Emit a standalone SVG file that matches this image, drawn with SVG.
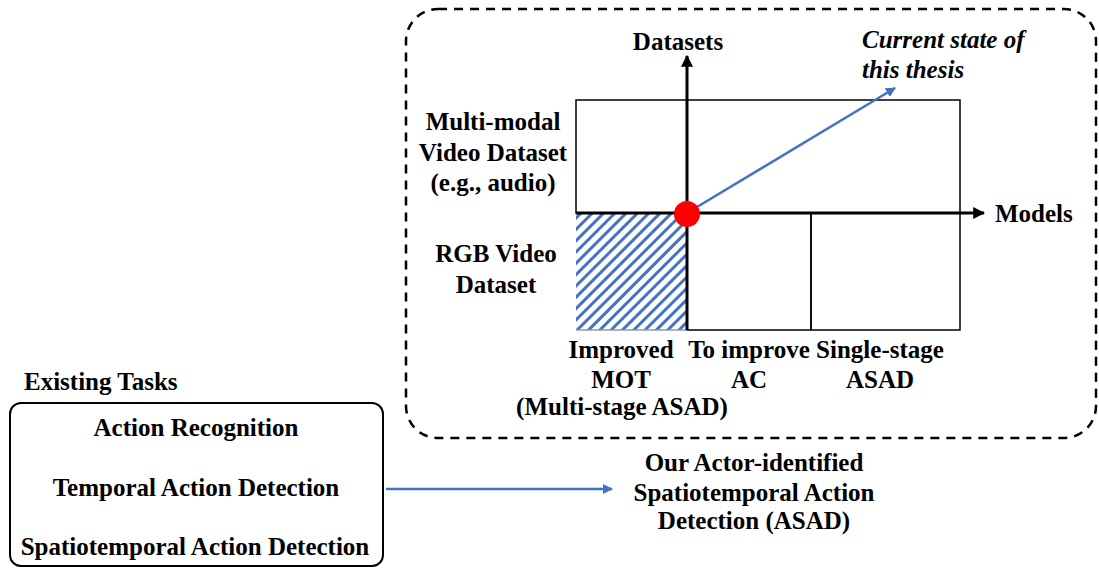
<svg xmlns="http://www.w3.org/2000/svg" width="1099" height="568" viewBox="0 0 1099 568">
  <style>
    .t { font-family: "Liberation Serif", "Times New Roman", serif; font-weight: bold; font-size: 25px; fill: #000; }
    .c { text-anchor: middle; }
    .it { font-style: italic; }
    .thin { fill: none; stroke: #000; stroke-width: 1.5; }
    .axis { fill: none; stroke: #000; stroke-width: 3; }
    .blue { fill: none; stroke: #4472C4; stroke-width: 2.5; }
  </style>
  <defs>
    <marker id="blackHead" viewBox="0 0 10 10" refX="9" refY="5" markerWidth="4" markerHeight="4" orient="auto" markerUnits="strokeWidth">
      <path d="M0,0 L10,5 L0,10 z" fill="#000"/>
    </marker>
    <marker id="blueHead" viewBox="0 0 10 10" refX="9" refY="5" markerWidth="4" markerHeight="4" orient="auto" markerUnits="strokeWidth">
      <path d="M0,0 L10,5 L0,10 z" fill="#4472C4"/>
    </marker>
    <pattern id="hatch" patternUnits="userSpaceOnUse" width="8" height="8" patternTransform="rotate(45)">
      <rect width="8" height="8" fill="#fff"/>
      <rect x="0" y="0" width="3" height="8" fill="#4472C4"/>
    </pattern>
  </defs>

  <!-- dashed frame around the research map -->
  <g id="frame">
    <rect x="406" y="9" width="690" height="429" rx="32" ry="32" fill="none" stroke="#000" stroke-width="2.5" stroke-dasharray="9 7"/>
  </g>

  <!-- map cells -->
  <g id="grid">
    <rect x="576" y="100" width="384" height="113" class="thin"/>
    <rect x="576" y="213" width="111" height="117" fill="url(#hatch)"/>
    <rect x="687" y="213" width="124" height="117" class="thin"/>
    <rect x="811" y="213" width="149" height="117" class="thin"/>
    <line x1="576" y1="330" x2="687" y2="330" stroke="#999" stroke-width="1.5"/>
  </g>

  <!-- axes and arrows -->
  <g id="connectors">
    <line x1="576" y1="213" x2="984" y2="213" class="axis" marker-end="url(#blackHead)"/>
    <line x1="687" y1="330" x2="687" y2="56" class="axis" marker-end="url(#blackHead)"/>
    <line x1="687" y1="213" x2="895" y2="88" class="blue" marker-end="url(#blueHead)"/>
    <line x1="386" y1="489" x2="612" y2="489" class="blue" marker-end="url(#blueHead)"/>
  </g>

  <g id="origin">
    <circle cx="687" cy="214" r="13" fill="#FF0000"/>
  </g>

  <g id="axis-labels">
    <text x="678" y="50" class="t c">Datasets</text>
    <text x="995" y="222" class="t">Models</text>
    <text x="862" y="48" class="t it">Current state of</text>
    <text x="862" y="78" class="t it">this thesis</text>
  </g>

  <g id="dataset-labels">
    <text x="493" y="130" class="t c">Multi-modal</text>
    <text x="493" y="161" class="t c">Video Dataset</text>
    <text x="493" y="191" class="t c">(e.g., audio)</text>
    <text x="496" y="262" class="t c">RGB Video</text>
    <text x="496" y="293" class="t c">Dataset</text>
  </g>

  <g id="model-labels">
    <text x="621" y="358" class="t c">Improved</text>
    <text x="621" y="388" class="t c">MOT</text>
    <text x="622" y="415" class="t c">(Multi-stage ASAD)</text>
    <text x="749" y="358" class="t c">To improve</text>
    <text x="749" y="388" class="t c">AC</text>
    <text x="880" y="358" class="t c">Single-stage</text>
    <text x="880" y="388" class="t c">ASAD</text>
  </g>

  <g id="existing-tasks">
    <text x="24" y="390" class="t">Existing Tasks</text>
    <rect x="10" y="403" width="373" height="163" rx="11" ry="11" fill="none" stroke="#000" stroke-width="2"/>
    <text x="196" y="436" class="t c">Action Recognition</text>
    <text x="196" y="496" class="t c">Temporal Action Detection</text>
    <text x="195" y="555" class="t c">Spatiotemporal Action Detection</text>
  </g>

  <g id="asad">
    <text x="754" y="471" class="t c">Our Actor-identified</text>
    <text x="754" y="501" class="t c">Spatiotemporal Action</text>
    <text x="754" y="529" class="t c">Detection (ASAD)</text>
  </g>
</svg>
